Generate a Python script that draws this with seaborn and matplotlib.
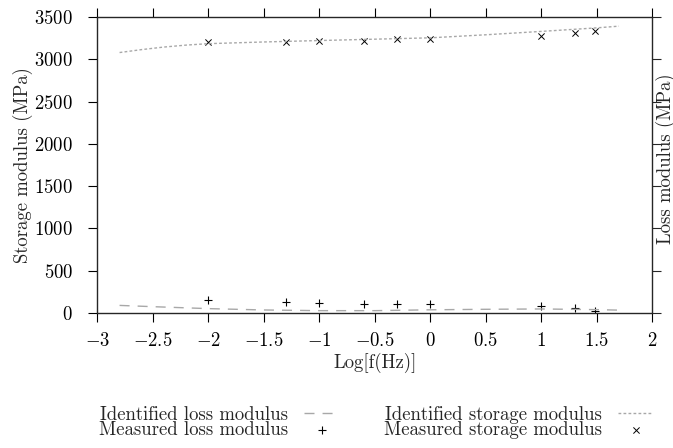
import matplotlib
matplotlib.use("Agg")
import matplotlib.pyplot as plt
from matplotlib.ticker import FuncFormatter
import numpy as np
import seaborn as sns

# Measured points (log10 of frequency in Hz)
meas_logf = [-2.0, -1.3, -1.0, -0.6, -0.3, 0.0, 1.0, 1.3, 1.48]
meas_storage = [3200, 3205, 3215, 3220, 3240, 3245, 3275, 3310, 3330]
meas_loss = [151, 131, 123, 111, 111, 107, 87, 60, 24]

# Identified model curves
ident_storage_logf = [-2.8, -2.6, -2.4, -2.2, -2.0, -1.5, -1.0, -0.5, 0.0, 0.5, 1.0, 1.3, 1.5, 1.7]
ident_storage = [3080, 3115, 3145, 3168, 3185, 3205, 3222, 3238, 3254, 3290, 3330, 3355, 3372, 3392]
ident_loss_logf = [-2.8, -2.5, -2.0, -1.5, -1.0, -0.5, 0.0, 0.5, 1.0, 1.5, 1.7]
ident_loss = [90, 75, 52, 36, 28, 28, 38, 44, 48, 40, 34]

x_ticks = np.arange(-3, 2.01, 0.5)
y_ticks = np.arange(0, 3501, 500)

sns.set_style("ticks")
plt.rcParams.update({
    "font.family": "serif",
    "font.serif": ["cmr10"],
    "mathtext.fontset": "cm",
    "axes.formatter.use_mathtext": True,
    "font.size": 13.5,
})

GREY = "#a8a8a8"
FS = 13.5

fig = plt.figure(figsize=(6.73, 4.48), dpi=100)
ax = fig.add_axes([0.1447, 0.3013, 0.8245, 0.6607])

sns.lineplot(x=ident_loss_logf, y=ident_loss, ax=ax, color=GREY, linewidth=1.0,
             label="Identified loss modulus")
ax.lines[-1].set_dashes([7.2, 5.8])
sns.scatterplot(x=meas_logf, y=meas_loss, ax=ax, marker="+", color="black", s=36,
                linewidth=0.8, label="Measured loss modulus")
sns.lineplot(x=ident_storage_logf, y=ident_storage, ax=ax, color=GREY, linewidth=1.0,
             label="Identified storage modulus")
ax.lines[-1].set_dashes([2.0, 1.6])
sns.scatterplot(x=meas_logf, y=meas_storage, ax=ax, marker="x", color="black", s=20,
                linewidth=0.7, label="Measured storage modulus")

fmt = FuncFormatter(lambda v, p: f"${v:g}$")
ax.set_xlim(-3, 2)
ax.set_ylim(0, 3500)
ax.set_xticks(x_ticks)
ax.set_yticks(y_ticks)
ax.xaxis.set_major_formatter(fmt)
ax.yaxis.set_major_formatter(fmt)
ax.tick_params(direction="out", length=6.5, width=0.8, top=True, right=True,
               labelsize=FS, colors="black")
ax.tick_params(axis="x", pad=7)
ax.tick_params(axis="y", pad=11)
for s in ax.spines.values():
    s.set_visible(True)
    s.set_linewidth(0.9)
    s.set_color("black")
ax.set_xlabel("Log[f(Hz)]", fontsize=FS, labelpad=2)
ax.set_ylabel("Storage modulus (MPa)", fontsize=FS, labelpad=1)

ax2 = ax.twinx()
ax2.set_ylim(0, 3500)
ax2.set_yticks(y_ticks)
ax2.set_yticklabels([])
ax2.tick_params(direction="out", length=6.5, width=0.8)
ax2.set_ylabel("Loss modulus (MPa)", fontsize=FS)
ax2.yaxis.set_label_coords(1.006, 0.52)

handles, labels = ax.get_legend_handles_labels()
ax.legend(handles, labels, ncol=2, markerfirst=False, frameon=False, fontsize=FS,
          loc="upper center", bbox_to_anchor=(0.559, 0.094),
          bbox_transform=fig.transFigure, borderpad=0, borderaxespad=0,
          handlelength=1.9, handletextpad=0.85, columnspacing=2.35,
          labelspacing=-0.15)

fig.savefig("out.png", dpi=100)
